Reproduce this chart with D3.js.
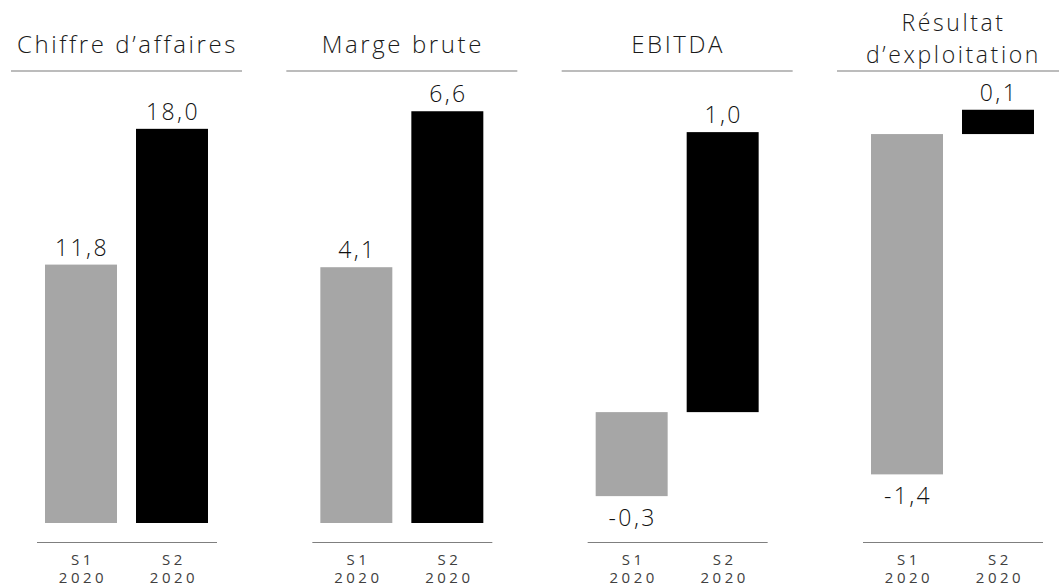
<!DOCTYPE html>
<html>
<head>
<meta charset="utf-8">
<script src="https://cdn.jsdelivr.net/npm/d3@7"></script>
<style>
  body { margin: 0; background: #fff; }
  text { font-family: 'Open Sans', 'Noto Sans', sans-serif; }
</style>
</head>
<body>
<div id="chart"></div>
<script>
// data
const metrics = ['Chiffre d\u2019affaires', 'Marge brute', 'EBITDA', 'Résultat d\u2019exploitation'];
const titleLines = [['Chiffre d\u2019affaires'], ['Marge brute'], ['EBITDA'], ['Résultat', 'd\u2019exploitation']];
const periods = ['S1', 'S2'];
const periodYear = '2020';
const s1Values = [11.8, 4.1, -0.3, -1.4];
const s2Values = [18.0, 6.6, 1.0, 0.1];
// each panel has its own vertical extent
const yDomains = [[0, 18.86], [0, 6.62], [-0.396, 1.079], [-1.6, 0.099]];

const width = 1059, height = 587;
const plotTop = 110, plotBottom = 523;
const colors = { S1: '#a6a6a6', S2: '#000000' };

const svg = d3.select('#chart').append('svg')
  .attr('width', width)
  .attr('height', height);

// panel centres
const panelX = d3.scalePoint()
  .domain(metrics)
  .range([126.5, 952.5]);

// bars within a panel
const xBand = d3.scaleBand()
  .domain(periods)
  .range([-90, 90])
  .paddingInner(0.209)
  .paddingOuter(0.0935);

const fmt = v => d3.format('.1f')(v).replace('.', ',').replace('\u2212', '-');

metrics.forEach((m, i) => {
  const g = svg.append('g')
    .attr('transform', `translate(${panelX(m)},0)`);

  const y = d3.scaleLinear()
    .domain(yDomains[i])
    .range([plotBottom, plotTop]);

  const rows = [
    { period: 'S1', value: s1Values[i] },
    { period: 'S2', value: s2Values[i] }
  ];

  // title (two-line titles set a touch smaller so the lines fit)
  const lines = titleLines[i];
  const title = g.append('text')
    .attr('text-anchor', 'middle')
    .attr('font-size', lines.length === 1 ? 24 : 23)
    .attr('font-weight', 300)
    .attr('letter-spacing', 2.6)
    .attr('fill', '#1a1a1a');
  lines.forEach((l, k) => {
    title.append('tspan')
      .attr('x', 1)
      .attr('y', lines.length === 1 ? 53 : 31 + k * 32)
      .text(l);
  });

  // title underline
  g.append('line')
    .attr('x1', -115.5).attr('x2', 115.5)
    .attr('y1', 71).attr('y2', 71)
    .attr('stroke', '#a6a6a6')
    .attr('stroke-width', 1.5);

  // bars
  g.selectAll('.bar')
    .data(rows)
    .enter().append('rect')
    .attr('class', 'bar')
    .attr('x', d => xBand(d.period))
    .attr('width', xBand.bandwidth())
    .attr('y', d => y(Math.max(0, d.value)))
    .attr('height', d => Math.abs(y(d.value) - y(0)))
    .attr('fill', d => colors[d.period]);

  // value labels
  g.selectAll('.val')
    .data(rows)
    .enter().append('text')
    .attr('class', 'val')
    .attr('x', d => xBand(d.period) + xBand.bandwidth() / 2 + 1)
    .attr('y', d => d.value >= 0 ? y(d.value) - 9 : y(d.value) + 30)
    .attr('text-anchor', 'middle')
    .attr('font-size', 23)
    .attr('font-weight', 300)
    .attr('letter-spacing', 2.4)
    .attr('fill', '#111')
    .text(d => fmt(d.value));

  // bottom axis
  const axis = g.append('g')
    .attr('transform', 'translate(0,542)')
    .call(d3.axisBottom(xBand).tickSize(0).tickSizeOuter(0));
  axis.select('.domain').attr('stroke', '#7f7f7f').attr('stroke-width', 1);
  axis.selectAll('.tick text').remove();
  axis.selectAll('.tick').each(function (d) {
    const t = d3.select(this).append('text')
      .attr('text-anchor', 'middle')
      .attr('font-size', 15)
      .attr('letter-spacing', 3.5)
      .attr('fill', '#404040');
    t.append('tspan').attr('x', 2).attr('y', 23).text(d);
    t.append('tspan').attr('x', 2).attr('y', 41).text(periodYear);
  });
});
</script>
</body>
</html>
